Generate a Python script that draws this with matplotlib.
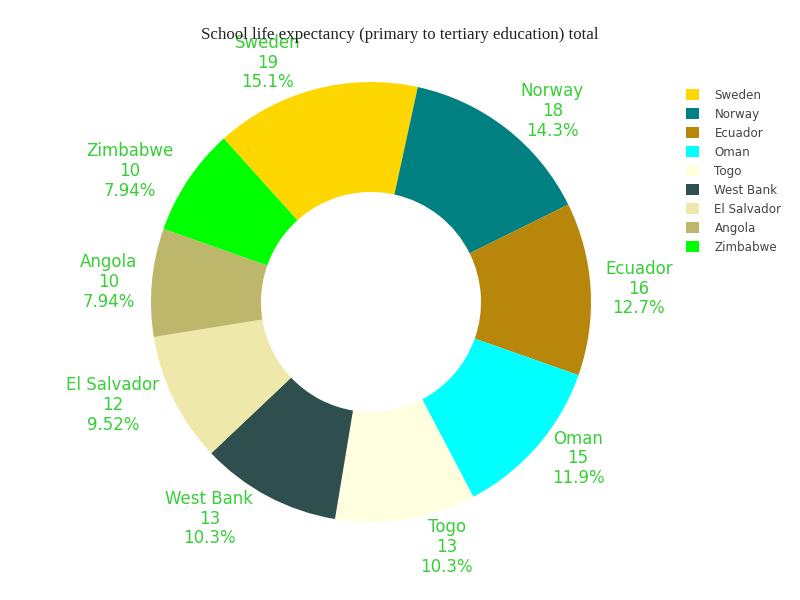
import numpy as np
import matplotlib
matplotlib.use("Agg")
import matplotlib.pyplot as plt
from matplotlib.patches import Wedge, Patch

# chart data
countries = ["Sweden", "Norway", "Ecuador", "Oman", "Togo",
             "West Bank", "El Salvador", "Angola", "Zimbabwe"]
values = [19, 18, 16, 15, 13, 13, 12, 10, 10]
colors = ["#FFD700", "#008080", "#B8860B", "#00FFFF", "#FFFFE0",
          "#2F4F4F", "#EEE8AA", "#BDB76B", "#00FF00"]
title = "School life expectancy (primary to tertiary education) total"

W, H = 800, 600
cx, cy = 371, 302      # pie centre in pixels (y down)
R = 220                # outer radius in pixels
hole = 0.5
start = -42.0          # degrees clockwise from 12 o'clock
label_color = "#36cf36"

fig = plt.figure(figsize=(W / 100, H / 100), dpi=100)
ax = fig.add_axes([0, 0, 1, 1])
ax.set_xlim(0, W)
ax.set_ylim(H, 0)
ax.axis("off")

total = float(sum(values))
fracs = [v / total for v in values]

renderer = fig.canvas.get_renderer()
angle = start
for name, val, frac, col in zip(countries, values, fracs, colors):
    span = frac * 360.0
    a0, a1 = angle, angle + span
    # clockwise-from-top angles map onto wedge angles because y axis is flipped
    w = Wedge((cx, cy), R, a0 - 90, a1 - 90, width=R * (1 - hole),
              facecolor=col, edgecolor="white", linewidth=0)
    ax.add_patch(w)

    mid = np.radians(angle + span / 2)
    px, py = R * np.sin(mid), -R * np.cos(mid)

    txt = f"{name}\n{val}\n{frac * 100:.3g}%"
    t = ax.text(0, 0, txt, fontsize=12, color=label_color, ha="center",
                va="center", linespacing=1.12, family="DejaVu Sans")
    bb = t.get_window_extent(renderer=renderer)
    dx, dy = bb.width / 2, bb.height / 2
    if px < 0:
        dx = -dx
    if py < 0:
        dy = -dy
    ox = dx + abs(dy) * (1 if dx > 0 else -1) / 2
    oy = dy / (1 + px * px / (py * py))
    t.set_position((cx + px + ox, cy + py + oy))
    angle = a1

fig.text(0.5, 1 - 35 / H, title, ha="center", va="center",
         fontsize=12.15, family="Liberation Serif", color="#222222")

handles = [Patch(facecolor=c, edgecolor="none") for c in colors]
leg = fig.legend(handles, countries, loc="upper left",
                 bbox_to_anchor=(681 / W, 1 - 84 / H), frameon=False,
                 fontsize=8.6, handlelength=1.1, handleheight=1.1,
                 handletextpad=1.3, labelspacing=0.5, borderaxespad=0)
for txt in leg.get_texts():
    txt.set_color("#444444")

fig.savefig("out.png", dpi=100)
